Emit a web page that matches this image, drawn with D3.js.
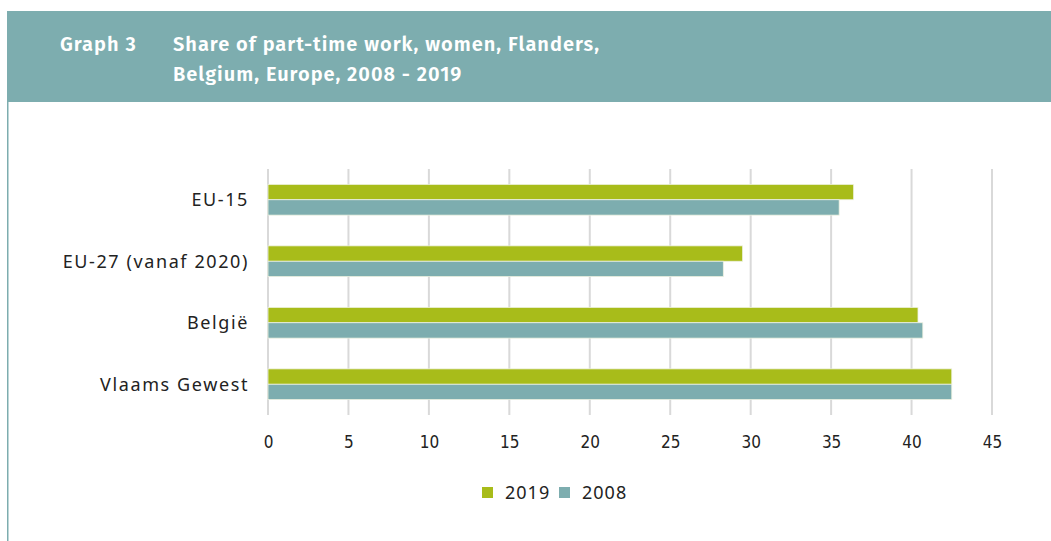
<!DOCTYPE html>
<html>
<head>
<meta charset="utf-8">
<title>Graph 3</title>
<script src="https://d3js.org/d3.v7.min.js"></script>
<style>
  body { margin: 0; background: #fff; }
  svg { display: block; }
  .head { font-family: "Fira Sans", "Open Sans", sans-serif; font-weight: 600; font-size: 20px; letter-spacing: 1px; fill: #fff; }
  .cat { font-family: "Noto Sans", "Open Sans", sans-serif; font-size: 18px; letter-spacing: 1.6px; fill: #222; }
  .tick text { font-family: "DejaVu Sans Condensed", "Roboto", sans-serif; font-size: 17px; fill: #222; }
  .leg { font-family: "Noto Sans", "Open Sans", sans-serif; font-size: 18px; letter-spacing: 1px; fill: #222; }
</style>
</head>
<body>
<script>
const width = 1051;
const height = 541;

const categories = ['EU-15', 'EU-27 (vanaf 2020)', 'België', 'Vlaams Gewest'];
const years = ['2019', '2008'];
const values2019 = [36.4, 29.5, 40.4, 42.5];
const values2008 = [35.5, 28.3, 40.7, 42.5];
const ticks = [0, 5, 10, 15, 20, 25, 30, 35, 40, 45];
const colors = ['#a8bc1a', '#7dadaf'];

const svg = d3.select('body').append('svg')
  .attr('width', width)
  .attr('height', height);

// header band
svg.append('rect')
  .attr('x', 7).attr('y', 11)
  .attr('width', width - 7).attr('height', 91)
  .attr('fill', '#7dadaf');
svg.append('rect')
  .attr('x', 7).attr('y', 102)
  .attr('width', 1.5).attr('height', height - 102)
  .attr('fill', '#7dadaf');

svg.append('text').attr('class', 'head').attr('x', 60).attr('y', 51).text('Graph 3');
svg.append('text').attr('class', 'head').attr('x', 173).attr('y', 51).text('Share of part-time work, women, Flanders,');
svg.append('text').attr('class', 'head').attr('x', 173).attr('y', 81).text('Belgium, Europe, 2008 - 2019');

const x = d3.scaleLinear().domain([0, 45]).range([268, 992]);
const y = d3.scaleBand().domain(categories).range([169, 415]).paddingInner(0.5).paddingOuter(0.25);
const ySub = d3.scaleBand().domain(years).range([0, y.bandwidth()]);

// grid lines
svg.append('g').selectAll('line')
  .data(ticks)
  .join('line')
  .attr('x1', d => x(d)).attr('x2', d => x(d))
  .attr('y1', 169).attr('y2', 415)
  .attr('stroke', '#d9d9d9')
  .attr('stroke-width', 2);

// axis labels
const axis = svg.append('g')
  .attr('transform', 'translate(0,415)')
  .call(d3.axisBottom(x).tickValues(ticks).tickSize(0).tickPadding(21));
axis.select('.domain').remove();

// bars
const rows = categories.map((c, i) => ({ cat: c, vals: [values2019[i], values2008[i]] }));
const groups = svg.append('g').selectAll('g')
  .data(rows)
  .join('g')
  .attr('transform', d => `translate(0,${y(d.cat)})`);

groups.selectAll('rect')
  .data(d => d.vals.map((v, j) => ({ year: years[j], v, j })))
  .join('rect')
  .attr('x', x(0))
  .attr('y', d => ySub(d.year))
  .attr('width', d => x(d.v) - x(0))
  .attr('height', ySub.bandwidth())
  .attr('fill', d => colors[d.j])
  .attr('stroke', '#eef2e0')
  .attr('stroke-width', 0.8);

// category labels
svg.append('g').selectAll('text')
  .data(categories)
  .join('text')
  .attr('class', 'cat')
  .attr('x', 249)
  .attr('y', d => y(d) + y.bandwidth() / 2)
  .attr('dy', '0.35em')
  .attr('text-anchor', 'end')
  .text(d => d);

// legend
const legX = [482, 559];
const leg = svg.append('g').selectAll('g')
  .data(years)
  .join('g')
  .attr('transform', (d, i) => `translate(${legX[i]},487)`);
leg.append('rect').attr('width', 11).attr('height', 11).attr('fill', (d, i) => colors[i]);
leg.append('text').attr('class', 'leg').attr('x', 23).attr('y', 5.5).attr('dy', '0.36em').text(d => d);
</script>
</body>
</html>
